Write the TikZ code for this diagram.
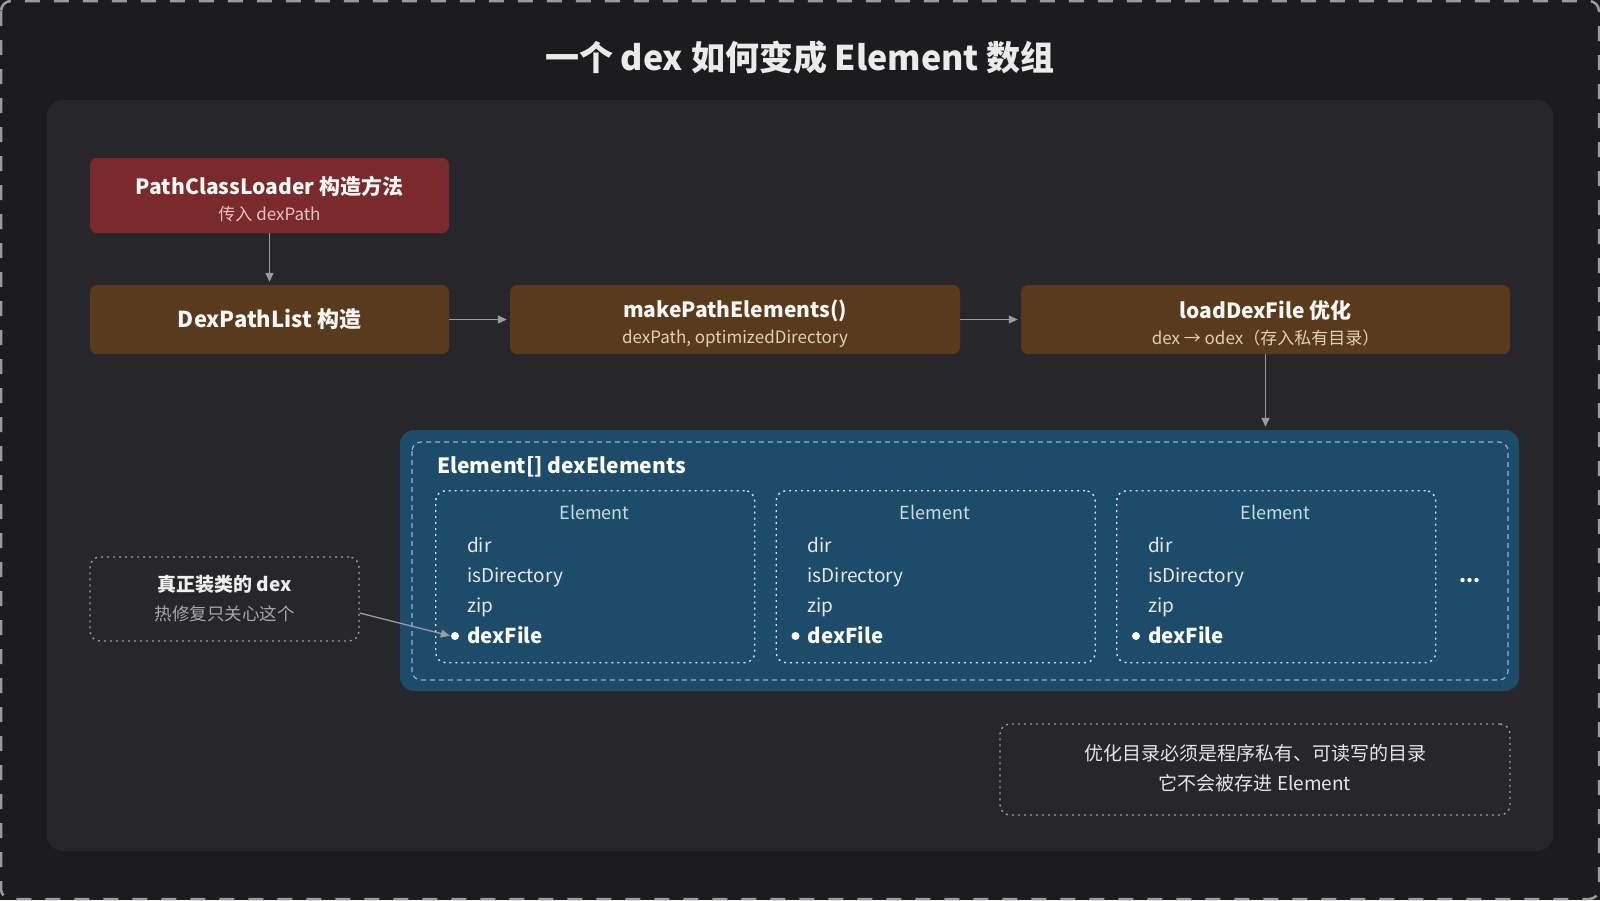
\documentclass[tikz,border=0pt]{standalone}
\usepackage{fontspec}
\setmainfont{Noto Sans CJK SC}
\usetikzlibrary{arrows.meta}

\definecolor{pagebg}{HTML}{1C1C1F}
\definecolor{panelbg}{HTML}{27272B}
\definecolor{redfill}{HTML}{7A292D}
\definecolor{brownfill}{HTML}{5A3A1D}
\definecolor{bluefill}{HTML}{1D4C6A}
\definecolor{linegray}{HTML}{9A9AA0}
\definecolor{dashblue}{HTML}{92B4CC}
\definecolor{redsub}{HTML}{E9C6C4}
\definecolor{brownsub}{HTML}{E3CFB8}
\definecolor{elgray}{HTML}{C9DBE7}
\definecolor{notesub}{HTML}{A8A8AC}

\newcommand{\subtxt}{\fontsize{17}{26}\selectfont\mdseries}
\newcommand{\toppad}{\rule{0pt}{25pt}}

\tikzset{
  stepbox/.style={rounded corners=7, inner sep=0, align=center, minimum height=69,
    text=white!95!brown, font=\fontsize{21}{26}\selectfont},
  redbox/.style={stepbox, fill=redfill},
  brownbox/.style={stepbox, fill=brownfill},
  arr/.style={draw=linegray, line width=1.3pt, shorten >=3pt,
    -{Triangle[length=9pt,width=8pt]}},
  elbox/.style={draw=white!85!bluefill, line width=1.4pt, dash pattern=on 2pt off 4pt,
    rounded corners=10, minimum width=319, minimum height=172, inner sep=0},
  item/.style={anchor=west, inner sep=0, text height=0.72em, text depth=0,
    text=white!88!bluefill, font=\fontsize{19}{22}\selectfont},
  notebox/.style={draw=linegray, line width=1.4pt, dash pattern=on 2pt off 4pt,
    rounded corners=10, inner sep=0, align=center}
}

\begin{document}
\begin{tikzpicture}[x=1pt,y=-1pt]
\useasboundingbox (0,0) rectangle (1600,900);

%Background
\fill[pagebg] (0,0) rectangle (1600,900);
\draw[linegray, line width=2.5pt, dash pattern=on 15pt off 14pt, rounded corners=10]
  (1,1) rectangle (1599,899);
\fill[panelbg, rounded corners=16] (47,100) rectangle (1553,851);

%Title
\node[text=white!92!black, font=\fontsize{34}{40}\selectfont\bfseries] (title) at (800,58)
  {一个 dex 如何变成 Element 数组};

%Steps
\node[redbox, minimum width=359, minimum height=75] (pcl) at (269.5,195.5)
  {{\bfseries\toppad PathClassLoader 构造方法}\\{\subtxt\color{redsub}传入 dexPath}};
\node[brownbox, minimum width=359, font=\fontsize{22}{27}\selectfont\bfseries] (dpl) at (269.5,319.5)
  {DexPathList 构造};
\node[brownbox, minimum width=450] (mpe) at (735,319.5)
  {{\bfseries\toppad makePathElements()}\\{\subtxt\color{brownsub}dexPath, optimizedDirectory}};
\node[brownbox, minimum width=489] (ldf) at (1265.5,319.5)
  {{\bfseries\toppad loadDexFile 优化}\\{\subtxt\color{brownsub}dex → odex（存入私有目录）}};

%Element array
\node[fill=bluefill, rounded corners=14, minimum width=1119, minimum height=261, inner sep=0]
  (elems) at (959.5,560.5) {};
\draw[dashblue, line width=1.2pt, dash pattern=on 5pt off 4pt, rounded corners=9]
  (412,442) rectangle (1508,680);
\node[anchor=west, inner sep=0, text=white, font=\fontsize{21}{25}\selectfont\bfseries]
  (elhead) at (437,467) {Element[] dexElements};

\foreach \x/\n in {435/1,775.5/2,1116/3}
{
\node[elbox, anchor=north west] (el\n) at (\x,490) {};
\node[text=elgray, inner sep=0, font=\fontsize{18}{22}\selectfont] (elt\n) at (\x+159.5,512) {Element};
\node[item] (dir\n) at (\x+32,549) {dir};
\node[item] (isd\n) at (\x+32,579) {isDirectory};
\node[item] (zip\n) at (\x+32,609) {zip};
\node[item, text=white, font=\fontsize{20.5}{24}\selectfont\bfseries] (df\n) at (\x+32,640) {dexFile};
\node[circle, fill=white, inner sep=0, minimum size=8] (dot\n) at (\x+20,636) {};
}
\node[text=white, inner sep=0, font=\fontsize{20}{24}\selectfont\bfseries] (more) at (1470,581) {...};

%Notes
\node[notebox, minimum width=269, minimum height=84, font=\fontsize{19}{29}\selectfont] (real) at (224.5,599)
  {{\bfseries\color{white!94!black}真正装类的 dex}\\
   {\fontsize{17.5}{29}\selectfont\color{notesub}热修复只关心这个}};
\node[notebox, minimum width=510, minimum height=91, text=white!90!black,
  font=\fontsize{19}{30}\selectfont] (optnote) at (1255,769.5)
  {\rule[-3pt]{0pt}{1pt}优化目录必须是程序私有、可读写的目录\\它不会被存进 Element\rule[-4pt]{0pt}{1pt}};

%Arrows
\draw[arr] (pcl) -- (dpl);
\draw[arr] (dpl) -- (mpe);
\draw[arr] (mpe) -- (ldf);
\draw[arr] (ldf.south) -- (ldf.south |- elems.north);
\draw[arr, shorten >=1pt] ([yshift=-14pt]real.east) -- (dot1.west);

\end{tikzpicture}
\end{document}
